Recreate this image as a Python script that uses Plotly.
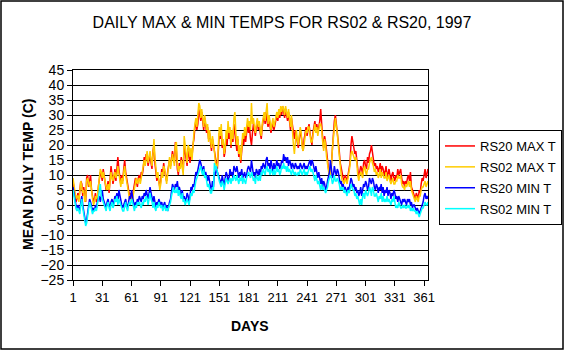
import plotly.graph_objects as go

days = list(range(1, 366))

rs20_max = [
    8, 6, 3, 1, 2, 4, 2, 5, 8, 7,
    3, 6, 2, 1, 9, 10, 6, 8, 10, 5,
    3, 1, 2, 4, 1, 2, 6, 9, 11, 10,
    8, 12, 10, 7, 5, 6, 8, 4, 9, 13,
    10, 7, 9, 12, 8, 11, 16, 12, 9, 7,
    10, 8, 12, 15, 11, 9, 6, 5, 3, 4,
    2, 3, 5, 7, 9, 8, 6, 9, 10, 8,
    11, 10, 12, 16, 14, 17, 16, 13, 15, 17,
    14, 12, 18, 20, 14, 11, 8, 10, 7, 6,
    8, 12, 10, 14, 11, 9, 8, 11, 13, 15,
    13, 15, 18, 16, 14, 21, 18, 12, 10, 14,
    13, 16, 12, 11, 20, 18, 15, 13, 19, 17,
    14, 18, 16, 20, 22, 26, 28, 25, 27, 32,
    30, 28, 31, 27, 25, 29, 26, 24, 26, 22,
    24, 21, 18, 22, 20, 17, 15, 14, 12, 18,
    24, 22, 25, 19, 21, 16, 18, 23, 20, 26,
    22, 25, 19, 24, 21, 27, 23, 20, 18, 22,
    16, 19, 14, 18, 22, 20, 24, 21, 25, 27,
    24, 26, 22, 20, 24, 27, 25, 23, 26, 28,
    25, 27, 24, 22, 26, 29, 30, 27, 31, 28,
    26, 29, 27, 24, 26, 28, 25, 27, 29, 30,
    28, 31, 29, 32, 30, 33, 31, 29, 32, 30,
    28, 31, 27, 25, 29, 26, 24, 22, 25, 23,
    21, 19, 22, 25, 23, 20, 18, 22, 24, 26,
    23, 25, 27, 24, 22, 20, 24, 26, 28, 25,
    27, 24, 26, 28, 32, 26, 22, 19, 23, 21,
    17, 14, 12, 10, 11, 14, 20, 24, 28, 30,
    27, 26, 22, 18, 14, 12, 10, 9, 8, 10,
    9, 8, 10, 12, 14, 20, 23, 21, 19, 17,
    18, 15, 12, 9, 11, 13, 12, 10, 14, 15,
    13, 12, 16, 14, 17, 18, 20, 17, 15, 13,
    14, 12, 13, 11, 12, 14, 11, 13, 12, 10,
    11, 13, 9, 11, 12, 10, 8, 10, 11, 9,
    8, 10, 9, 12, 10, 11, 12, 9, 7, 8,
    6, 8, 7, 9, 10, 8, 11, 6, 5, 4,
    3, 2, 4, 3, 2, 5, 4, 7, 9, 8,
    10, 12, 9, 11, 12,
]

rs02_max = [
    9, 7, 4, 2, 3, 3, 1, 4, 8, 6,
    4, 5, 1, 2, 8, 9, 7, 6, 8, 4,
    2, 0, 1, 3, 2, 3, 7, 10, 12, 11,
    9, 11, 9, 8, 6, 5, 7, 5, 8, 11,
    9, 8, 10, 11, 9, 10, 13, 11, 8, 6,
    9, 7, 11, 13, 10, 8, 5, 4, 2, 3,
    1, 2, 4, 6, 8, 9, 7, 8, 9, 7,
    10, 11, 13, 15, 13, 16, 18, 14, 16, 18,
    15, 13, 17, 22, 16, 12, 9, 11, 8, 5,
    7, 11, 9, 13, 12, 10, 7, 10, 14, 16,
    12, 14, 17, 15, 13, 20, 21, 14, 11, 13,
    12, 15, 13, 10, 23, 20, 16, 14, 20, 19,
    16, 19, 15, 21, 24, 27, 29, 26, 30, 34,
    33, 29, 32, 28, 26, 30, 27, 25, 27, 21,
    25, 22, 19, 23, 21, 18, 14, 13, 13, 20,
    26, 23, 27, 20, 22, 17, 19, 25, 22, 28,
    24, 26, 20, 25, 22, 29, 31, 24, 20, 23,
    17, 20, 15, 19, 24, 22, 26, 23, 27, 29,
    26, 28, 25, 34, 27, 29, 26, 24, 27, 29,
    26, 28, 25, 23, 27, 30, 31, 28, 32, 34,
    27, 30, 28, 25, 27, 29, 26, 28, 30, 31,
    29, 32, 30, 33, 31, 33, 32, 30, 33, 31,
    29, 32, 28, 26, 30, 24, 20, 17, 22, 25,
    22, 20, 23, 26, 24, 19, 18, 21, 23, 25,
    24, 26, 26, 23, 21, 21, 23, 25, 27, 24,
    26, 23, 25, 27, 27, 25, 21, 18, 22, 20,
    16, 13, 11, 9, 10, 13, 19, 23, 27, 29,
    26, 24, 20, 16, 13, 10, 8, 8, 7, 9,
    8, 7, 9, 11, 13, 17, 18, 17, 16, 15,
    16, 14, 10, 8, 10, 11, 10, 9, 12, 13,
    11, 10, 12, 12, 14, 15, 16, 14, 13, 11,
    12, 10, 11, 9, 10, 12, 9, 11, 10, 9,
    9, 11, 8, 9, 10, 8, 7, 8, 9, 7,
    7, 8, 8, 10, 9, 9, 10, 7, 6, 6,
    5, 7, 6, 7, 8, 6, 8, 5, 4, 3,
    2, 1, 3, 2, 1, 3, 3, 5, 6, 6,
    7, 8, 6, 7, 8,
]

rs20_min = [
    6, 4, 1, -1, -2, 0, -1, -2, 1, 3,
    0, -2, -4, -6, -5, -3, 0, 2, 1, -1,
    -2, -1, -2, 0, -1, 1, 2, 3, 1, 4,
    5, 2, 1, 0, -1, 1, 2, 0, -1, 1,
    2, 0, 1, 3, 2, 4, 1, 5, 3, 1,
    0, -1, 0, 1, 2, 0, -1, 1, 3, 2,
    5, 3, 0, -1, 1, 0, 2, 1, 3, 2,
    1, 3, 2, 4, 3, 5, 3, 2, 4, 6,
    4, 2, 1, 3, 0, -1, 1, 0, 2, 1,
    0, 1, -1, 0, 1, -1, 0, -2, 0, 1,
    2, 4, 7, 6, 5, 7, 6, 8, 5, 6,
    4, 3, 5, 2, 3, 1, 2, 4, 3, 1,
    3, 6, 5, 7, 6, 9, 11, 10, 12, 13,
    15, 14, 12, 11, 13, 10, 11, 9, 8, 10,
    7, 6, 5, 8, 6, 11, 10, 12, 11, 10,
    9, 8, 7, 10, 8, 6, 9, 11, 10, 8,
    9, 12, 10, 11, 9, 13, 12, 11, 13, 10,
    9, 11, 10, 12, 9, 10, 11, 9, 10, 12,
    13, 12, 11, 15, 12, 10, 11, 9, 12, 11,
    10, 12, 9, 13, 12, 14, 13, 12, 15, 16,
    13, 14, 12, 15, 13, 11, 14, 12, 13, 15,
    13, 14, 12, 13, 15, 14, 17, 15, 16, 14,
    16, 13, 15, 14, 12, 14, 13, 12, 14, 13,
    12, 13, 12, 14, 13, 12, 13, 14, 12, 13,
    12, 13, 14, 15, 13, 15, 14, 12, 11, 13,
    10, 9, 11, 8, 7, 9, 6, 8, 7, 5,
    6, 8, 10, 11, 15, 12, 9, 10, 13, 11,
    10, 12, 11, 9, 7, 8, 6, 7, 5, 6,
    5, 4, 6, 5, 7, 9, 8, 6, 7, 5,
    6, 4, 5, 3, 4, 6, 3, 5, 7, 6,
    8, 7, 5, 6, 9, 8, 7, 9, 8, 6,
    5, 7, 6, 4, 6, 5, 7, 4, 6, 3,
    5, 4, 6, 3, 5, 4, 2, 4, 3, 5,
    4, 2, 3, 1, 3, 2, 1, 0, 2, 1,
    2, 1, 0, 2, 1, 2, 0, 1, -1, 0,
    0, -1, -2, -1, -2, -3, -2, -1, 0, 1,
    3, 4, 2, 3, 2,
]

rs02_min = [
    5, 3, 0, -1, -2, -1, -2, -3, 0, 2,
    -1, -3, -5, -7, -6, -4, -1, 1, 0, -2,
    -3, -2, -2, -1, -2, 0, 2, 4, 7, 3,
    2, 1, 0, -1, -2, 0, 1, -1, -2, 0,
    1, -1, 0, 2, 1, 3, 0, 2, 1, 0,
    -1, -2, -2, 0, 1, -1, -2, 0, 1, 0,
    2, 1, -1, -2, 0, -1, 1, 0, 1, 0,
    -1, 1, 0, 2, 1, 3, 2, 0, 2, 4,
    2, 1, -1, 1, -1, -2, 0, -1, 1, 0,
    -1, 0, -2, -1, 0, -2, -1, -2, -1, 0,
    1, 3, 5, 6, 4, 5, 4, 6, 3, 5,
    3, 2, 4, 1, 2, 0, 1, 2, 1, 0,
    2, 4, 3, 5, 4, 7, 8, 9, 10, 11,
    12, 13, 11, 10, 12, 9, 10, 8, 6, 7,
    5, 4, 4, 6, 5, 14, 12, 13, 11, 9,
    8, 7, 6, 8, 7, 5, 7, 9, 8, 7,
    8, 9, 7, 9, 8, 10, 9, 8, 10, 8,
    7, 9, 8, 10, 7, 9, 8, 7, 9, 10,
    11, 10, 9, 11, 10, 8, 9, 7, 10, 9,
    8, 10, 8, 11, 10, 12, 11, 10, 12, 13,
    11, 12, 10, 12, 11, 10, 12, 10, 11, 13,
    11, 12, 10, 11, 13, 12, 14, 12, 13, 11,
    13, 11, 12, 11, 10, 12, 11, 10, 11, 10,
    10, 11, 10, 12, 11, 10, 11, 12, 10, 11,
    10, 11, 12, 13, 11, 12, 11, 9, 8, 10,
    8, 7, 8, 6, 5, 7, 5, 6, 5, 4,
    5, 6, 8, 9, 10, 9, 7, 8, 10, 8,
    8, 9, 8, 7, 5, 6, 5, 6, 4, 5,
    4, 3, 5, 4, 5, 7, 6, 5, 5, 3,
    4, 2, 3, 1, 0, 2, 0, 3, 4, 2,
    5, 4, 3, 4, 6, 5, 3, 6, 5, 3,
    3, 4, 2, 1, 3, 2, 4, 1, 3, 1,
    2, 1, 3, 1, 2, 1, 0, 2, 1, 3,
    1, -1, 0, -1, 1, 0, -1, -1, 0, -1,
    0, -1, -1, 0, -1, 0, -2, -1, -2, -1,
    -2, -2, -3, -2, -3, -4, -3, -2, -1, -1,
    0, 1, 0, 0, 1,
]

series_names = ["RS20 MAX T", "RS02 MAX T", "RS20 MIN T", "RS02 MIN T"]
series_vals = [rs20_max, rs02_max, rs20_min, rs02_min]
series_colors = ["#FF0000", "#FFCC00", "#0000FF", "#00FFFF"]

x_tickvals = [1, 31, 61, 91, 121, 151, 181, 211, 241, 271, 301, 331, 361]
y_tickvals = list(range(-25, 50, 5))

fig = go.Figure()
for i, (name, vals, col) in enumerate(zip(series_names, series_vals, series_colors)):
    fig.add_trace(go.Scatter(x=days, y=vals, name=name, mode="lines",
                             legendgroup="g%d" % i,
                             line=dict(color=col, width=1.5)))

# plot area in px: x 73..428, y 70..280
L, R, T, B = 73, 428, 70, 280
W, H = 566, 352
pw, ph = R - L, B - T

def px(xp):
    return (xp - L) / pw

def py(yp):
    return (B - yp) / ph

fig.update_layout(
    width=W, height=H,
    margin=dict(l=L, r=W - R, t=T, b=H - B, pad=0, autoexpand=False),
    paper_bgcolor="white", plot_bgcolor="white",
    font=dict(family="Arial, Liberation Sans", color="black", size=13),
    title=dict(text="DAILY MAX &amp; MIN TEMPS FOR RS02 &amp; RS20, 1997",
               x=282 / W, xanchor="center", y=1 - 22 / H, yanchor="middle",
               font=dict(size=16, color="black")),
    showlegend=True,
    legend=dict(x=px(439), y=py(130), xanchor="left", yanchor="top",
                bordercolor="black", borderwidth=1, bgcolor="white",
                font=dict(size=13), itemwidth=30, tracegroupgap=1,
                traceorder="grouped"),
    xaxis=dict(range=[1, 365], tickvals=x_tickvals, ticks="outside", ticklen=5,
               tickcolor="black", showline=True, linecolor="black", linewidth=1,
               mirror=True, showgrid=False, zeroline=False,
               tickfont=dict(size=13)),
    yaxis=dict(range=[-25, 45], tickvals=y_tickvals, ticks="outside", ticklen=5,
               tickcolor="black", showline=True, linecolor="black", linewidth=1,
               mirror=True, showgrid=True, gridcolor="black", gridwidth=1,
               zeroline=False, tickfont=dict(size=14)),
    annotations=[
        dict(text="<b>MEAN DAILY TEMP (C)</b>", xref="paper", yref="paper",
             x=px(28), y=py(175), textangle=-90, showarrow=False,
             xanchor="center", yanchor="middle", font=dict(size=14)),
        dict(text="<b>DAYS</b>", xref="paper", yref="paper",
             x=px(250), y=py(326), showarrow=False,
             xanchor="center", yanchor="middle", font=dict(size=14)),
    ],
    shapes=[
        dict(type="rect", xref="paper", yref="paper",
             x0=px(1), x1=px(563), y0=py(349), y1=py(1),
             line=dict(color="black", width=1.5), fillcolor="rgba(0,0,0,0)",
             layer="above"),
    ],
)

fig.write_html("out.html")
